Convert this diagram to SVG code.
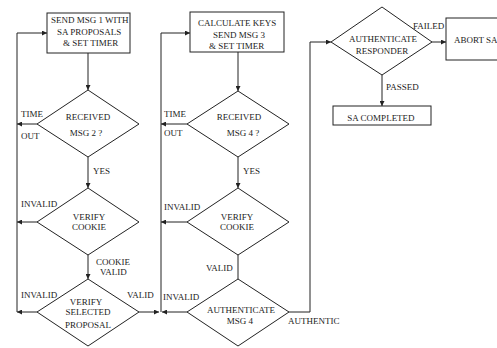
<svg xmlns="http://www.w3.org/2000/svg" width="497" height="348" viewBox="0 0 497 348">
<defs>
<marker id="ah" viewBox="0 0 10 10" refX="10" refY="5" markerWidth="6" markerHeight="5" orient="auto" markerUnits="userSpaceOnUse">
<path d="M0,0 L10,5 L0,10 z" fill="#222"/>
</marker>
<style>
.n{fill:#fff;stroke:#222;stroke-width:1}
.c{fill:none;stroke:#222;stroke-width:1}
.a{marker-end:url(#ah)}
text{font-family:"Liberation Serif","Times New Roman",serif;font-size:9px;fill:#222}
.m{text-anchor:middle}
</style>
</defs>
<rect width="497" height="348" fill="#fff"/>
<g id="connectors">
<path class="c a" d="M88,53 V90"/>
<path class="c a" d="M88,157 V188"/>
<path class="c a" d="M88,255 V279"/>
<path class="c a" d="M37,124 H17"/>
<path class="c a" d="M37,222 H17"/>
<path class="c a" d="M37,312 H17"/>
<path class="c" d="M17,312 V33"/>
<path class="c a" d="M17,33 H47"/>
<path class="c a" d="M139,312 H159"/>
<path class="c a" d="M238,52 V91"/>
<path class="c a" d="M238,157 V188"/>
<path class="c" d="M238,255 V279"/>
<path class="c a" d="M187,124 H161"/>
<path class="c a" d="M187,222 H161"/>
<path class="c a" d="M187,312 H162"/>
<path class="c" d="M161,312 V33"/>
<path class="c a" d="M161,33 H190"/>
<path class="c a" d="M289,312 H310 V42 H331"/>
<path class="c a" d="M432,42 H446"/>
<path class="c a" d="M382,75 V106"/>
</g>
<g id="box1">
<rect class="n" x="47" y="13" width="83" height="40"/>
<text x="51" y="23">SEND MSG 1 WITH</text>
<text x="57" y="35">SA PROPOSALS</text>
<text x="63" y="46">&amp; SET TIMER</text>
</g>
<g id="received2">
<polygon class="n" points="88,90 139,124 88,157 37,124"/>
<text class="m" x="88" y="120">RECEIVED</text>
<text class="m" x="86" y="136">MSG 2 ?</text>
</g>
<g id="cookie1">
<polygon class="n" points="88,188 139,222 88,255 37,222"/>
<text class="m" x="89" y="220">VERIFY</text>
<text class="m" x="89" y="230">COOKIE</text>
</g>
<g id="proposal">
<polygon class="n" points="88,279 139,312 88,346 37,312"/>
<text class="m" x="86" y="305">VERIFY</text>
<text class="m" x="88" y="315">SELECTED</text>
<text class="m" x="88" y="328">PROPOSAL</text>
</g>
<g id="box2">
<rect class="n" x="190" y="12" width="94" height="40"/>
<text x="198" y="26">CALCULATE KEYS</text>
<text x="213" y="38">SEND MSG 3</text>
<text x="209" y="49">&amp; SET TIMER</text>
</g>
<g id="received4">
<polygon class="n" points="238,91 289,124 238,157 187,124"/>
<text class="m" x="239" y="120">RECEIVED</text>
<text class="m" x="243" y="136">MSG 4 ?</text>
</g>
<g id="cookie2">
<polygon class="n" points="238,188 289,222 238,255 187,222"/>
<text class="m" x="237" y="220">VERIFY</text>
<text class="m" x="237" y="230">COOKIE</text>
</g>
<g id="authmsg4">
<polygon class="n" points="238,279 289,312 238,346 187,312"/>
<text class="m" x="241" y="313">AUTHENTICATE</text>
<text class="m" x="240" y="324">MSG 4</text>
</g>
<g id="authresp">
<polygon class="n" points="382,7 432,42 382,75 331,42"/>
<text class="m" x="383" y="42">AUTHENTICATE</text>
<text class="m" x="382" y="54">RESPONDER</text>
</g>
<g id="abort">
<rect class="n" x="446" y="18" width="80" height="42"/>
<text x="454" y="43">ABORT SA</text>
</g>
<g id="completed">
<rect class="n" x="333" y="106" width="98" height="19"/>
<text class="m" x="381" y="121">SA COMPLETED</text>
</g>
<g id="labels">
<text x="21" y="117">TIME</text>
<text x="21" y="139">OUT</text>
<text x="93" y="174">YES</text>
<text x="21" y="207">INVALID</text>
<text x="96" y="265">COOKIE</text>
<text x="100" y="275">VALID</text>
<text x="21" y="298">INVALID</text>
<text x="127" y="298">VALID</text>
<text x="164" y="117">TIME</text>
<text x="164" y="136">OUT</text>
<text x="243" y="174">YES</text>
<text x="164" y="210">INVALID</text>
<text x="206" y="271">VALID</text>
<text x="163" y="300">INVALID</text>
<text x="288" y="324">AUTHENTIC</text>
<text x="413" y="29">FAILED</text>
<text x="386" y="90">PASSED</text>
</g>
</svg>
